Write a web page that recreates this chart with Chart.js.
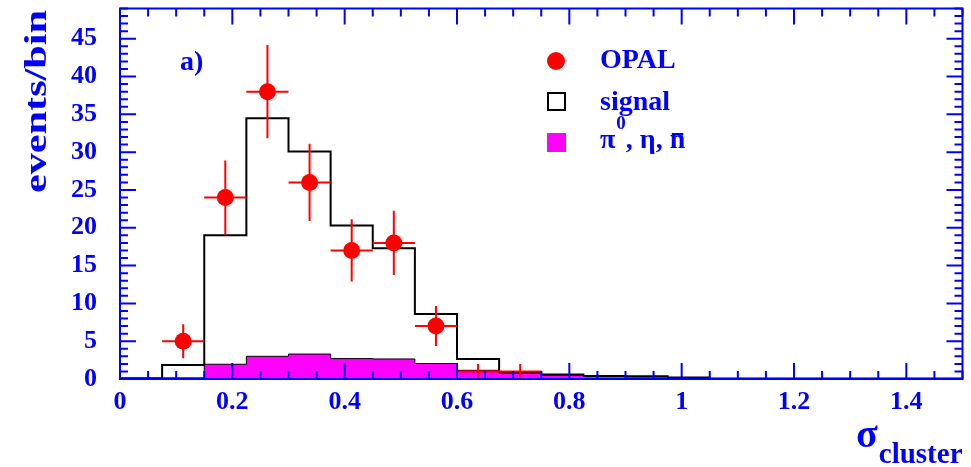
<!DOCTYPE html>
<html>
<head>
<meta charset="utf-8">
<script src="https://cdn.jsdelivr.net/npm/chart.js@4"></script>
<style>
  html, body { margin: 0; padding: 0; background: #fff; }
  #wrap { width: 971px; height: 467px; }
</style>
</head>
<body>
<div id="wrap"><canvas id="c" width="971" height="467"></canvas></div>
<script>
// bin low edges (width 0.075), last entry is the upper edge of the last bin
const binEdges = [0, 0.075, 0.15, 0.225, 0.3, 0.375, 0.45, 0.525, 0.6, 0.675, 0.75,
                  0.825, 0.9, 0.975, 1.05, 1.125, 1.2, 1.275, 1.35, 1.425, 1.5];
const binCentres = [0.0375, 0.1125, 0.1875, 0.2625, 0.3375, 0.4125, 0.4875, 0.5625, 0.6375, 0.7125,
                    0.7875, 0.8625, 0.9375, 1.0125, 1.0875, 1.1625, 1.2375, 1.3125, 1.3875, 1.4625];
const signalMC = [0.1, 1.85, 19.0, 34.5, 30.1, 20.3, 17.3, 8.6, 2.65, 0.85,
                  0.6, 0.4, 0.35, 0.2, 0.08, 0.06, 0.05, 0.05, 0.05, 0.05];
const backgroundMC = [0.1, 0.15, 1.95, 3.0, 3.3, 2.7, 2.65, 2.05, 1.15, 0.75,
                      0.5, 0.33, 0.28, 0.15, 0.06, 0.05, 0.04, 0.04, 0.04, 0.04];
const opalData = [0, 5, 24, 38, 26, 17, 18, 7, 1, 1, 0, 0, 0, 0, 0, 0, 0, 0, 0, 0];
const opalErr = [0, 2.24, 4.9, 6.16, 5.1, 4.12, 4.24, 2.65, 1, 1, 0, 0, 0, 0, 0, 0, 0, 0, 0, 0];
const binHalfWidth = 0.0375;
const yTickStep = 5;
const xTickStep = 0.2;

const BLUE = '#0000ff';
const SERIF = "'Liberation Serif', 'DejaVu Serif', serif";

// step outline: one point per edge, last bin value repeated at the upper edge
function stepPoints(vals) {
    const pts = vals.map((v, i) => ({ x: binEdges[i], y: v }));
    pts.push({ x: binEdges[binEdges.length - 1], y: vals[vals.length - 1] });
    return pts;
}

const opalPoints = [];
opalData.forEach((v, i) => {
    if (v > 0) opalPoints.push({ x: binCentres[i], y: v, err: opalErr[i] });
});

// --- error bars, drawn just before the OPAL markers ---
const errorBars = {
    id: 'errorBars',
    beforeDatasetDraw(chart, args) {
        if (args.index !== 2) return;
        const { ctx, scales: { x, y } } = chart;
        ctx.save();
        ctx.strokeStyle = '#ff0000';
        ctx.lineWidth = 2;
        opalPoints.forEach(p => {
            ctx.beginPath();
            ctx.moveTo(x.getPixelForValue(p.x - binHalfWidth), y.getPixelForValue(p.y));
            ctx.lineTo(x.getPixelForValue(p.x + binHalfWidth), y.getPixelForValue(p.y));
            ctx.moveTo(x.getPixelForValue(p.x), y.getPixelForValue(Math.max(0, p.y - p.err)));
            ctx.lineTo(x.getPixelForValue(p.x), y.getPixelForValue(p.y + p.err));
            ctx.stroke();
        });
        ctx.restore();
    }
};

// --- ROOT style frame with inward ticks on all four sides ---
const frameTicks = {
    id: 'frameTicks',
    afterDatasetsDraw(chart) {
        const { ctx, chartArea: a, scales: { x, y } } = chart;
        ctx.save();
        ctx.strokeStyle = BLUE;
        ctx.lineWidth = 2;
        ctx.strokeRect(a.left, a.top, a.right - a.left, a.bottom - a.top);
        ctx.beginPath();
        for (let i = 0; i <= 30; i++) {
            const px = x.getPixelForValue(i * 0.05);
            const len = i % 4 === 0 ? 16 : 8;
            ctx.moveTo(px, a.bottom); ctx.lineTo(px, a.bottom - len);
            ctx.moveTo(px, a.top); ctx.lineTo(px, a.top + len);
        }
        for (let i = 0; i <= 49; i++) {
            const py = y.getPixelForValue(i);
            if (py < a.top) break;
            const len = i % 5 === 0 ? 16 : 8;
            ctx.moveTo(a.left, py); ctx.lineTo(a.left + len, py);
            ctx.moveTo(a.right, py); ctx.lineTo(a.right - len, py);
        }
        ctx.stroke();
        ctx.restore();
    }
};

// --- legend, panel label and axis titles ---
const labels = {
    id: 'labels',
    afterDraw(chart) {
        const ctx = chart.ctx;
        const a = chart.chartArea;
        ctx.save();
        ctx.fillStyle = BLUE;
        ctx.textBaseline = 'alphabetic';

        ctx.font = `bold 28px ${SERIF}`;
        ctx.fillText('a)', 180, 70);

        // legend markers
        ctx.fillStyle = '#ff0000';
        ctx.beginPath(); ctx.arc(556, 61, 9, 0, Math.PI * 2); ctx.fill();
        ctx.strokeStyle = '#000';
        ctx.lineWidth = 2;
        ctx.strokeRect(548, 93, 17, 17);
        ctx.fillStyle = '#ff00ff';
        ctx.fillRect(547, 133, 19, 19);

        ctx.fillStyle = BLUE;
        ctx.font = `bold 28px ${SERIF}`;
        ctx.fillText('OPAL', 600, 68);
        ctx.fillText('signal', 600, 110);
        let cx = 600;
        ctx.fillText('\u03c0', cx, 148); cx += ctx.measureText('\u03c0').width;
        ctx.font = `bold 19px ${SERIF}`;
        ctx.fillText('0', cx + 1, 129); cx += ctx.measureText('0').width + 1;
        ctx.font = `bold 28px ${SERIF}`;
        ctx.fillText(', \u03b7, ', cx, 148); cx += ctx.measureText(', \u03b7, ').width;
        ctx.fillText('n', cx, 148);
        const nw = ctx.measureText('n').width;
        ctx.fillRect(cx + 2, 133, nw - 4, 2.5);

        // x title: sigma_cluster, right aligned to the frame
        ctx.textAlign = 'right';
        ctx.font = `bold 29px ${SERIF}`;
        ctx.fillText('cluster', a.right, 463);
        const cw = ctx.measureText('cluster').width;
        ctx.font = `bold 40px ${SERIF}`;
        ctx.fillText('\u03c3', a.right - cw - 1, 447);

        // y title, stretched along the axis like the original
        ctx.textAlign = 'left';
        ctx.font = `bold 32px ${SERIF}`;
        const tw = ctx.measureText('events/bin').width;
        ctx.translate(46, 193);
        ctx.rotate(-Math.PI / 2);
        ctx.scale(183 / tw, 1);
        ctx.fillText('events/bin', 0, 0);
        ctx.restore();
    }
};

const ctx = document.getElementById('c').getContext('2d');
new Chart(ctx, {
    data: {
        datasets: [
            {
                type: 'line',
                label: 'signal',
                data: stepPoints(signalMC),
                stepped: 'before',
                borderColor: '#000',
                borderWidth: 2,
                pointRadius: 0,
                fill: false,
                order: 3
            },
            {
                type: 'line',
                label: 'pi0, eta, nbar',
                data: stepPoints(backgroundMC),
                stepped: 'before',
                borderColor: '#000',
                borderWidth: 1,
                backgroundColor: '#ff00ff',
                pointRadius: 0,
                fill: 'origin',
                order: 2
            },
            {
                type: 'scatter',
                label: 'OPAL',
                data: opalPoints,
                pointRadius: c => (c.raw && c.raw.y > 1 ? 8.5 : 0),
                pointBackgroundColor: '#ff0000',
                pointBorderWidth: 0,
                order: 1
            }
        ]
    },
    options: {
        responsive: false,
        devicePixelRatio: 1,
        animation: false,
        layout: { padding: { top: 8, right: 6, left: 0, bottom: 0 } },
        plugins: { legend: { display: false }, tooltip: { enabled: false } },
        scales: {
            x: {
                type: 'linear',
                min: 0,
                max: 1.5,
                grid: { display: false, drawTicks: false },
                border: { display: false },
                ticks: {
                    stepSize: xTickStep,
                    includeBounds: false,
                    color: BLUE,
                    padding: 8,
                    maxRotation: 0,
                    font: { family: SERIF, size: 26, weight: 'bold' },
                    callback: v => String(+v.toFixed(1))
                },
                afterFit(s) { s.height = 88; s.paddingLeft = 0; s.paddingRight = 0; }
            },
            y: {
                type: 'linear',
                min: 0,
                max: 49,
                grid: { display: false, drawTicks: false },
                border: { display: false },
                ticks: {
                    stepSize: yTickStep,
                    includeBounds: false,
                    color: BLUE,
                    padding: 23,
                    font: { family: SERIF, size: 26, weight: 'bold' }
                },
                afterFit(s) { s.width = 120; s.paddingTop = 0; s.paddingBottom = 0; }
            }
        }
    },
    plugins: [errorBars, frameTicks, labels]
});
</script>
</body>
</html>
